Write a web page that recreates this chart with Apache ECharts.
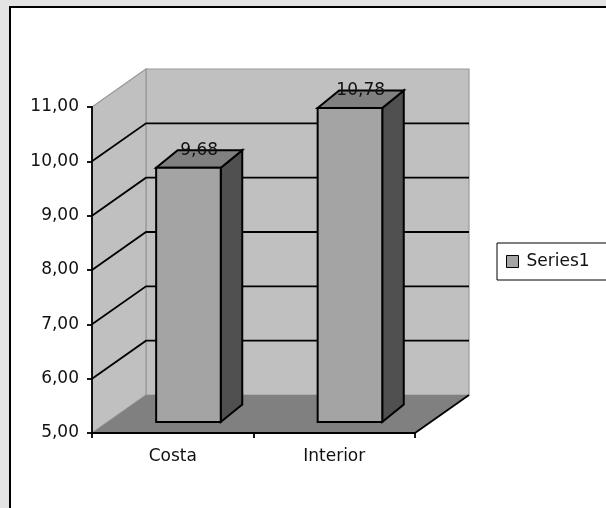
<!DOCTYPE html>
<html>
<head>
<meta charset="utf-8">
<script src="https://cdn.jsdelivr.net/npm/echarts@6/dist/echarts.min.js"></script>
<style>
  html, body { margin: 0; padding: 0; background: #e4e4e4; }
  #chart { width: 606px; height: 508px; }
</style>
</head>
<body>
<div id="chart"></div>
<script>
// Chart data
const categories = ['Costa', 'Interior'];
const series1 = [9.68, 10.78];
const yMin = 5;
const yMax = 11;
const yStep = 1;
const yTicks = [5, 6, 7, 8, 9, 10, 11];

// 3D look: offset of the back plane and of the bars inside the depth
const DEPTH_X = 54, DEPTH_Y = -38;
const BAR_OFF_X = 15.7, BAR_OFF_Y = -11;
const BAR_DEPTH_X = 21.5, BAR_DEPTH_Y = -17.5;
const BAR_WIDTH_RATIO = 0.4;
const FONT = 'DejaVu Sans';
const FONT_SIZE = 17;

const fmt = v => v.toFixed(2).replace('.', ',');

const chart = echarts.init(document.getElementById('chart'), null, { renderer: 'canvas' });

// Walls, floor and gridlines of the 3D plot area
function renderWalls(params, api) {
  const cs = params.coordSys;
  const L = cs.x, R = cs.x + cs.width;
  const yTop = api.coord([0, yMax])[1];
  const yBot = api.coord([0, yMin])[1];
  const children = [];
  // back wall
  children.push({
    type: 'polygon',
    shape: { points: [[L + DEPTH_X, yTop + DEPTH_Y], [R + DEPTH_X, yTop + DEPTH_Y], [R + DEPTH_X, yBot + DEPTH_Y], [L + DEPTH_X, yBot + DEPTH_Y]] },
    style: { fill: '#c0c0c0', stroke: '#999999', lineWidth: 1.2 }
  });
  // side wall
  children.push({
    type: 'polygon',
    shape: { points: [[L, yTop], [L + DEPTH_X, yTop + DEPTH_Y], [L + DEPTH_X, yBot + DEPTH_Y], [L, yBot]] },
    style: { fill: '#c0c0c0', stroke: '#999999', lineWidth: 1.2 }
  });
  // floor
  children.push({
    type: 'polygon',
    shape: { points: [[L, yBot], [R, yBot], [R + DEPTH_X, yBot + DEPTH_Y], [L + DEPTH_X, yBot + DEPTH_Y]] },
    style: { fill: '#808080', stroke: null }
  });
  // floor right edge
  children.push({
    type: 'line',
    shape: { x1: R, y1: yBot, x2: R + DEPTH_X, y2: yBot + DEPTH_Y },
    style: { stroke: '#000', lineWidth: 1.8 }
  });
  // gridlines on side and back walls
  yTicks.forEach(v => {
    if (v === yMin || v === yMax) return;
    const y = api.coord([0, v])[1];
    children.push({
      type: 'polyline',
      shape: { points: [[L, y], [L + DEPTH_X, y + DEPTH_Y], [R + DEPTH_X, y + DEPTH_Y]] },
      style: { stroke: '#000', lineWidth: 1.8, fill: null }
    });
  });
  return { type: 'group', children };
}

// One 3D bar with its value label
function renderBar(params, api) {
  const idx = api.value(0);
  const val = api.value(1);
  const top = api.coord([idx, val]);
  const base = api.coord([idx, yMin]);
  const band = api.size([1, 0])[0];
  const w = band * BAR_WIDTH_RATIO;
  const x0 = top[0] + BAR_OFF_X - w / 2;
  const x1 = x0 + w;
  const yT = top[1] + BAR_OFF_Y;
  const yB = base[1] + BAR_OFF_Y;
  const dx = BAR_DEPTH_X, dy = BAR_DEPTH_Y;
  const edge = { stroke: '#000', lineWidth: 2, lineJoin: 'miter' };
  return {
    type: 'group',
    children: [
      { type: 'polygon', shape: { points: [[x1, yT], [x1 + dx, yT + dy], [x1 + dx, yB + dy], [x1, yB]] },
        style: Object.assign({ fill: '#505050' }, edge) },
      { type: 'polygon', shape: { points: [[x0, yT], [x0 + dx, yT + dy], [x1 + dx, yT + dy], [x1, yT]] },
        style: Object.assign({ fill: '#808080' }, edge) },
      { type: 'rect', shape: { x: x0, y: yT, width: w, height: yB - yT },
        style: Object.assign({ fill: '#a4a4a4' }, edge) },
      { type: 'text', z2: 10,
        style: { text: fmt(val), x: (x0 + x1) / 2 + dx / 2, y: yT + dy,
                 align: 'center', verticalAlign: 'middle',
                 fill: '#111', font: FONT_SIZE + 'px "' + FONT + '"' } }
    ]
  };
}

chart.setOption({
  backgroundColor: '#e4e4e4',
  animation: false,
  graphic: [{
    type: 'rect', z: -10,
    shape: { x: 10, y: 7, width: 700, height: 600 },
    style: { fill: '#ffffff', stroke: '#000', lineWidth: 2 }
  }],
  grid: { left: 92, top: 107, width: 323, height: 326, containLabel: false },
  legend: {
    data: [{ name: 'Series1', icon: 'rect' }],
    left: 497, top: 243,
    orient: 'horizontal',
    padding: [9, 60, 9, 9],
    itemWidth: 12, itemHeight: 12,
    borderColor: '#000', borderWidth: 1,
    backgroundColor: '#fff',
    itemStyle: { color: '#a4a4a4', borderColor: '#000', borderWidth: 1 },
    textStyle: { fontFamily: FONT, fontSize: FONT_SIZE, color: '#111', padding: [0, 0, 0, 3], lineHeight: 19 }
  },
  xAxis: {
    type: 'category',
    data: categories,
    z: 5,
    axisLine: { lineStyle: { color: '#000', width: 1.8 } },
    axisTick: { show: true, length: 5, alignWithLabel: false, lineStyle: { color: '#000', width: 1.8 } },
    axisLabel: { margin: 15, color: '#111', fontFamily: FONT, fontSize: FONT_SIZE },
    splitLine: { show: false }
  },
  yAxis: {
    type: 'value',
    min: yMin, max: yMax, interval: yStep,
    z: 5,
    axisLine: { show: true, lineStyle: { color: '#000', width: 1.8 } },
    axisTick: { show: true, length: 5, lineStyle: { color: '#000', width: 1.8 } },
    axisLabel: { margin: 13, color: '#111', fontFamily: FONT, fontSize: FONT_SIZE, formatter: fmt },
    splitLine: { show: false }
  },
  series: [
    {
      type: 'custom',
      name: 'walls',
      silent: true,
      z: 1,
      renderItem: renderWalls,
      data: [[0, yMin]],
      encode: { x: 0, y: 1 }
    },
    {
      type: 'custom',
      name: 'Series1',
      silent: true,
      z: 2,
      itemStyle: { color: '#a4a4a4' },
      renderItem: renderBar,
      data: series1.map((v, i) => [i, v]),
      encode: { x: 0, y: 1 }
    }
  ]
});
</script>
</body>
</html>
